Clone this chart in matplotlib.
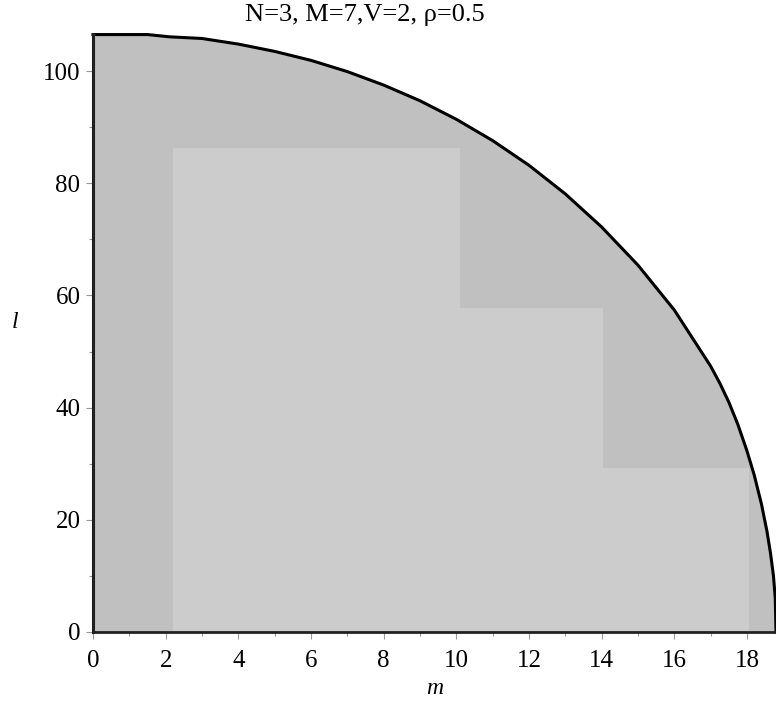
import matplotlib
matplotlib.use("Agg")
import matplotlib.pyplot as plt
import numpy as np

# boundary curve of the region
curve_m = [0, 1.5, 2.1, 3, 4, 5, 6, 7, 8, 9, 10, 11, 12, 13, 14, 15, 16, 17,
           17.25, 17.5, 17.75, 18.0, 18.2, 18.4, 18.55, 18.65, 18.73, 18.78, 18.8]
curve_l = [106.5, 106.5, 106.1, 105.8, 104.8, 103.5, 101.9, 99.9, 97.5, 94.7,
           91.4, 87.6, 83.2, 78.1, 72.2, 65.4, 57.4, 47.4,
           44.4, 41.0, 37.0, 32.3, 28.0, 22.8, 18.0, 14.0, 10.0, 6.0, 0]

# lighter staircase region
step_edges = [2.2, 10.1, 14.05, 18.05]
step_heights = [86.3, 57.8, 29.2]

title = "N=3, M=7,V=2, \u03c1=0.5"

plt.rcParams['font.family'] = ['Liberation Serif', 'DejaVu Serif']

fig = plt.figure(figsize=(7.76, 7.08), dpi=100)
ax = fig.add_axes([93 / 776, 1 - 632 / 708, 1 - 93 / 776, (632 - 34) / 708])

ax.fill_between(curve_m, curve_l, 0, color='#c0c0c0', linewidth=0)
ax.bar(step_edges[:-1], step_heights, width=np.diff(step_edges), align='edge',
       color='#cccccc', linewidth=0)
ax.plot(curve_m, curve_l, color='black', linewidth=2.2, clip_on=False,
        solid_joinstyle='round')
ax.plot([0, 0], [0, curve_l[0]], color='black', linewidth=2.2, clip_on=False)

ax.set_xlim(0, 18.8)
ax.set_ylim(0, 106.6)
ax.set_xticks(np.arange(0, 19, 2))
ax.set_xticks(np.arange(1, 19, 2), minor=True)
ax.set_yticks(np.arange(0, 101, 20))
ax.set_yticks(np.arange(10, 101, 20), minor=True)

for s in ['top', 'right']:
    ax.spines[s].set_visible(False)
for s in ['left', 'bottom']:
    ax.spines[s].set_color('#222222')
    ax.spines[s].set_linewidth(2)

ax.tick_params(which='both', direction='out', color='#999999', width=0.8)
ax.tick_params(which='major', length=5, labelsize=18)
ax.tick_params(which='minor', length=3)
ax.tick_params(axis='x', pad=8)
ax.tick_params(axis='y', pad=4)

ax.set_xlabel('m', fontsize=17, style='italic', labelpad=4)
ax.set_ylabel('l', fontsize=17, style='italic', rotation=0, labelpad=0)
ax.yaxis.set_label_coords(-93 / 776 / (1 - 93 / 776) + 15 / 683, 0.5)

fig.text(365 / 776, 1 - 15 / 708, title, ha='center', va='center', fontsize=19)

fig.savefig('out.png', dpi=100)
